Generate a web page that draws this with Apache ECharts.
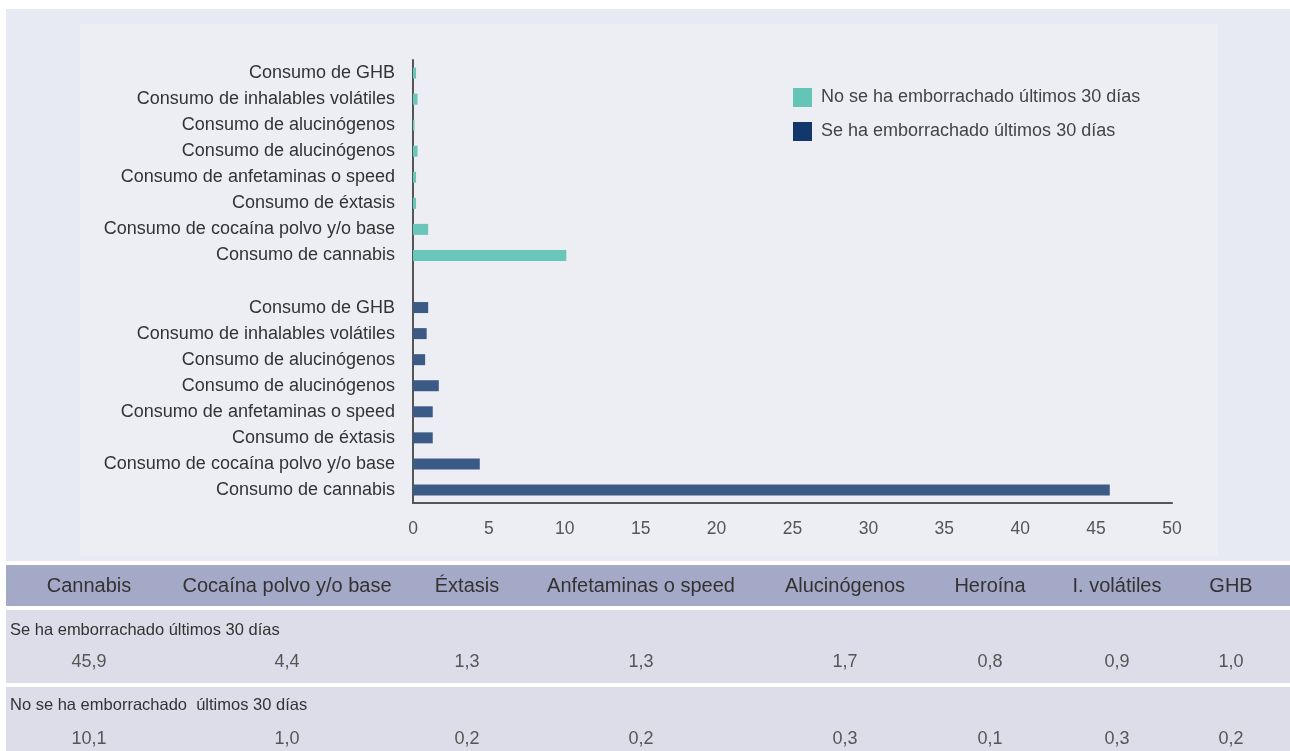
<!DOCTYPE html>
<html>
<head>
<meta charset="utf-8">
<script src="https://cdn.jsdelivr.net/npm/echarts@6/dist/echarts.min.js"></script>
<style>
html,body{margin:0;padding:0;background:#ffffff;}
#chart{width:1290px;height:751px;}
</style>
</head>
<body>
<div id="chart"></div>
<script>
// ---- data ----
var tableHeaders = ['Cannabis', 'Cocaína polvo y/o base', 'Éxtasis', 'Anfetaminas o speed', 'Alucinógenos', 'Heroína', 'I. volátiles', 'GHB'];
var rowNameEmb = 'Se ha emborrachado últimos 30 días';
var rowNameNoEmb = 'No se ha emborrachado  últimos 30 días';
var valuesEmb = [45.9, 4.4, 1.3, 1.3, 1.7, 0.8, 0.9, 1.0];
var valuesNoEmb = [10.1, 1.0, 0.2, 0.2, 0.3, 0.1, 0.3, 0.2];
var barLabels = ['Consumo de GHB', 'Consumo de inhalables volátiles', 'Consumo de alucinógenos', 'Consumo de alucinógenos', 'Consumo de anfetaminas o speed', 'Consumo de éxtasis', 'Consumo de cocaína polvo y/o base', 'Consumo de cannabis'];
var seriesNoEmb = 'No se ha emborrachado últimos 30 días';
var seriesEmb = 'Se ha emborrachado últimos 30 días';
var xTicks = [0, 50, 5];

// ---- build ----
var embBars = valuesEmb.slice().reverse();
var noEmbBars = valuesNoEmb.slice().reverse();
var categories = barLabels.concat(['']).concat(barLabels);
var n = barLabels.length;
var lightData = [], darkData = [];
for (var i = 0; i < categories.length; i++) {
  lightData.push(i < n ? noEmbBars[i] : null);
  darkData.push(i > n ? embBars[i - n - 1] : null);
}
function fmt(v){ return v.toFixed(1).replace('.', ','); }

var FONT = '"Liberation Sans", Arial, sans-serif';
var colX = [89, 287, 467, 641, 845, 990, 1117, 1231];
var graphics = [
  {type:'rect', z:-10, shape:{x:6,y:9,width:1284,height:552}, style:{fill:'#e8eaf3'}, silent:true},
  {type:'rect', z:-9, shape:{x:80,y:24,width:1138,height:532}, style:{fill:'#edeef4'}, silent:true},
  {type:'rect', z:-9, shape:{x:6,y:565,width:1284,height:41}, style:{fill:'#a3a9c6'}, silent:true},
  {type:'rect', z:-9, shape:{x:6,y:610,width:1284,height:73}, style:{fill:'#dcdde9'}, silent:true},
  {type:'rect', z:-9, shape:{x:6,y:687,width:1284,height:64}, style:{fill:'#dcdde9'}, silent:true},
  {type:'text', x:10, y:630, style:{text:rowNameEmb, fill:'#333', font:'16.5px '+FONT, textAlign:'left', textVerticalAlign:'middle'}},
  {type:'text', x:10, y:705, style:{text:rowNameNoEmb, fill:'#333', font:'16.5px '+FONT, textAlign:'left', textVerticalAlign:'middle'}}
];
for (var c = 0; c < tableHeaders.length; c++) {
  graphics.push({type:'text', x:colX[c], y:586, style:{text:tableHeaders[c], fill:'#333', font:'20px '+FONT, textAlign:'center', textVerticalAlign:'middle'}});
  graphics.push({type:'text', x:colX[c], y:662, style:{text:fmt(valuesEmb[c]), fill:'#555', font:'18px '+FONT, textAlign:'center', textVerticalAlign:'middle'}});
  graphics.push({type:'text', x:colX[c], y:739, style:{text:fmt(valuesNoEmb[c]), fill:'#555', font:'18px '+FONT, textAlign:'center', textVerticalAlign:'middle'}});
}

var chart = echarts.init(document.getElementById('chart'), null, {renderer:'canvas'});
chart.setOption({
  animation: false,
  backgroundColor: 'transparent',
  textStyle: {fontFamily: FONT},
  graphic: graphics,
  legend: {
    orient: 'vertical',
    left: 788, top: 83,
    itemWidth: 19, itemHeight: 19, itemGap: 15,
    icon: 'rect',
    textStyle: {fontSize: 18, color: '#444', fontFamily: FONT, padding:[0,0,0,4]},
    data: [
      {name: seriesNoEmb, itemStyle: {color: '#64c5b7'}},
      {name: seriesEmb, itemStyle: {color: '#12386b'}}
    ]
  },
  grid: {left: 413, right: 118, top: 60, height: 443, containLabel: false},
  xAxis: {
    type: 'value', min: xTicks[0], max: xTicks[1], interval: xTicks[2],
    axisLine: {show: true, lineStyle: {color: '#555', width: 2}},
    axisTick: {show: false},
    splitLine: {show: false},
    axisLabel: {fontSize: 17.5, color: '#555', margin: 17, fontFamily: FONT}
  },
  yAxis: {
    type: 'category', inverse: true, data: categories,
    axisLine: {show: true, onZero: false, lineStyle: {color: '#555', width: 2}},
    axisTick: {show: false},
    axisLabel: {fontSize: 18, color: '#333', margin: 18, fontFamily: FONT, interval: 0, padding: [2, 0, 0, 0]}
  },
  series: [
    {name: seriesNoEmb, type: 'bar', stack: 'all', data: lightData, barWidth: 11, itemStyle: {color: '#6ac6b9'}},
    {name: seriesEmb, type: 'bar', stack: 'all', data: darkData, barWidth: 11, itemStyle: {color: '#3b5a86'}}
  ]
});
</script>
</body>
</html>
